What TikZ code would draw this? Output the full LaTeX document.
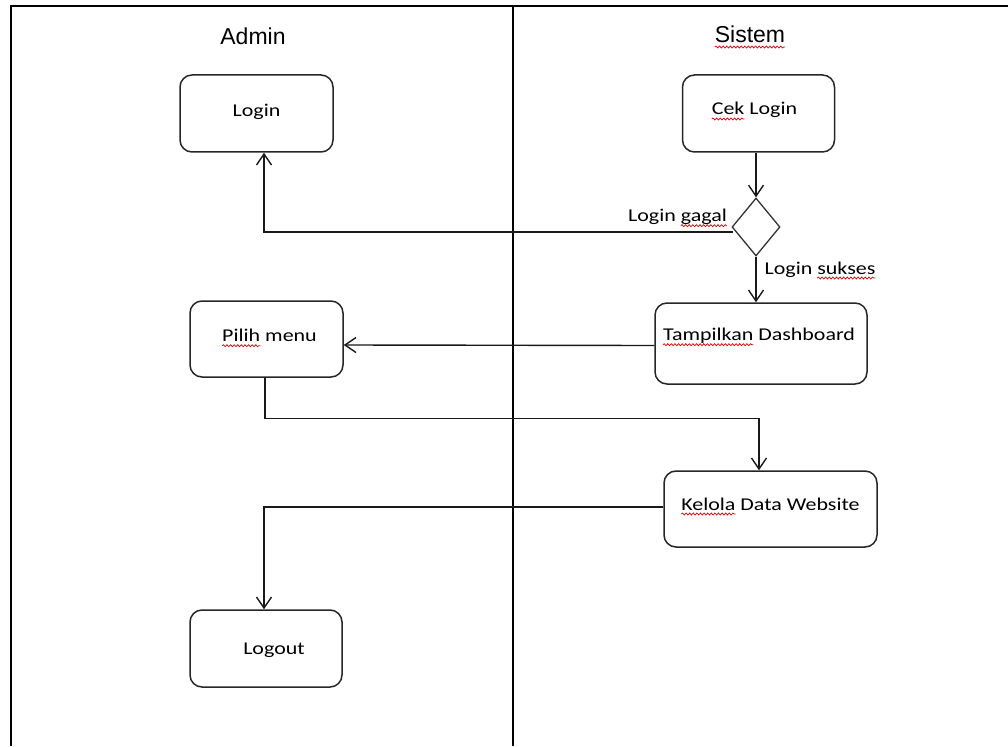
\documentclass[tikz,border=0pt]{standalone}
\usepackage{fontspec}
\usetikzlibrary{arrows.meta,shapes.geometric,calc,decorations.pathmorphing}
\setmainfont{Carlito}
\newfontfamily\actfont[FakeStretch=1.22]{Carlito}
\newfontfamily\headfont{Liberation Sans}

% word marked with a red wavy underline
\newsavebox\wavybox
\newcommand\wavy[1]{\sbox\wavybox{#1}\usebox\wavybox\hspace{-\wd\wavybox}%
  \tikz[overlay,baseline=0pt,x=1pt,y=1pt]{\draw[sharp corners, red!85!black, line width=0.7pt,
    decorate, decoration={snake, amplitude=1pt, segment length=3.6pt}]
    (0pt,-4pt) -- (\wd\wavybox,-4pt);}\hspace{\wd\wavybox}\null}

\tikzset{
  lane/.style={line width=2.8pt, black},
  act/.style={draw=black!85, line width=1.5pt, rounded corners=12pt,
              inner sep=0pt, font=\actfont\fontsize{18}{20}\selectfont},
  decision/.style={draw=black!80, line width=1.3pt, diamond, inner sep=0pt,
                   minimum width=48pt, minimum height=58pt},
  flow/.style={line width=1.4pt, black!90, -{Straight Barb[length=11pt,width=15pt,line width=1.4pt]}},
  guard/.style={font=\actfont\fontsize{18}{20}\selectfont, inner sep=0pt, anchor=base},
  lanehead/.style={font=\headfont\fontsize{23}{26}\selectfont, inner sep=0pt, anchor=base}
}

\begin{document}
\begin{tikzpicture}[x=1pt, y=-1pt]
\useasboundingbox (0,0) rectangle (1008,746);

% swimlane frame
\coordinate (tl) at (11,6);
\coordinate (tr) at (1008,6);
\coordinate (bl) at (11,746);
\coordinate (mt) at (513,6);
\coordinate (mb) at (513,746);
\draw[lane] (bl) -- (tl) -- (tr);
\draw[lane] (mt) -- (mb);

% lane titles
\node[lanehead] (admin) at (253,45) {Admin};
\node[lanehead] (sistem) at (750,43) {\wavy{Sistem}};

% activities (text height / depth place the label in each box)
\node[act, minimum width=153pt, text height=42pt, text depth=35pt] (login) at (256.5,113.5) {Login};
\node[act, minimum width=152pt, text height=40pt, text depth=37pt] (cek) at (758.5,113.5) {\wavy{Cek} Login\hspace*{8pt}};
\node[decision] (dec) at (756,227) {};
\node[act, minimum width=212pt, text height=37.7pt, text depth=43.3pt] (tamp) at (761,343.5) {\wavy{Tampilkan} Dashboard\hspace*{4pt}};
\node[act, minimum width=153pt, text height=40.7pt, text depth=35.3pt] (pilih) at (266.5,339) {\hspace*{6pt}\wavy{Pilih} menu};
\node[act, minimum width=213pt, text height=39pt, text depth=37pt] (kelola) at (770.5,509) {\wavy{Kelola} Data Website};
\node[act, minimum width=152pt, text height=44pt, text depth=33pt] (logout) at (266,648.5) {\hspace*{16pt}Logout};

% guards
\node[guard] (gagal) at (677.5,221.7) {Login \wavy{gagal}};
\node[guard] (sukses) at (820,274) {Login \wavy{sukses}};

% control flow
\draw[flow] (dec.north |- cek.south) -- (dec.north);
\draw[flow] ($(dec.west)+(2,5)$) -| ([xshift=7.5pt]login.south);
\draw[flow] (dec.south) -- (dec.south |- tamp.north);
\draw[flow] ($(tamp.west)+(0,2)$) -- ($(pilih.east)+(0,6)$);
\draw[flow] ([xshift=-1.5pt]pilih.south) -- ++(0,41) -| ([xshift=-11.5pt]kelola.north);
\draw[flow] ($(kelola.west)+(0,-2)$) -| ([xshift=-2pt]logout.north);
\end{tikzpicture}
\end{document}
